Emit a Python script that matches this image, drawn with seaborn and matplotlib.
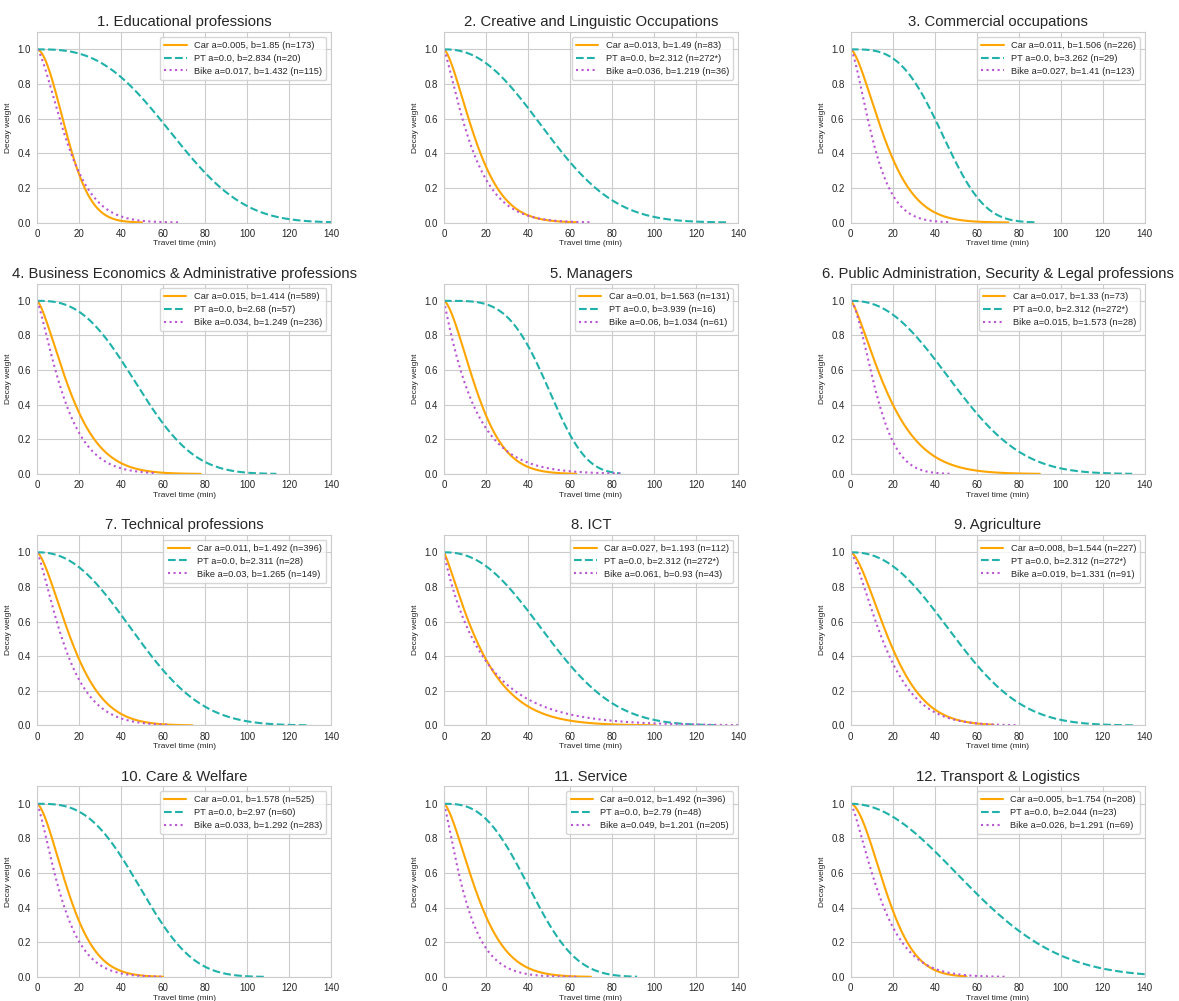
import numpy as np
import pandas as pd
import matplotlib
matplotlib.use("Agg")
import matplotlib.pyplot as plt
import seaborn as sns

sns.set_style("whitegrid")
plt.rcParams['font.family'] = ['Liberation Sans', 'DejaVu Sans']

# panel titles
titles = [
    "1. Educational professions",
    "2. Creative and Linguistic Occupations",
    "3. Commercial occupations",
    "4. Business Economics & Administrative professions",
    "5. Managers",
    "6. Public Administration, Security & Legal professions",
    "7. Technical professions",
    "8. ICT",
    "9. Agriculture",
    "10. Care & Welfare",
    "11. Service",
    "12. Transport & Logistics",
]

# decay parameters f(t) = exp(-a * t^b), as printed in the legends
car_a = [0.005, 0.013, 0.011, 0.015, 0.01, 0.017, 0.011, 0.027, 0.008, 0.01, 0.012, 0.005]
car_b = [1.85, 1.49, 1.506, 1.414, 1.563, 1.33, 1.492, 1.193, 1.544, 1.578, 1.492, 1.754]
car_n = ["173", "83", "226", "589", "131", "73", "396", "112", "227", "525", "396", "208"]
car_tmax = [50, 63, 75, 78, 63, 90, 74, 101, 68, 60, 70, 55]

pt_a_label = [0.0] * 12
pt_b = [2.834, 2.312, 3.262, 2.68, 3.939, 2.312, 2.311, 2.312, 2.312, 2.97, 2.79, 2.044]
pt_n = ["20", "272*", "29", "57", "16", "272*", "28", "272*", "272*", "60", "48", "23"]
# PT a is printed as 0.0, estimated from the drawn curves
pt_a = [5.04e-6, 8.14e-5, 3.03e-6, 2.115e-5, 1.465e-7, 8.14e-5, 8.87e-5, 8.14e-5,
        8.14e-5, 6.3e-6, 2.15e-5, 1.703e-4]
pt_tmax = [140, 135, 88, 114, 84, 134, 130, 130, 135, 108, 92, 140]

bike_a = [0.017, 0.036, 0.027, 0.034, 0.06, 0.015, 0.03, 0.061, 0.019, 0.033, 0.049, 0.026]
bike_b = [1.432, 1.219, 1.41, 1.249, 1.034, 1.573, 1.265, 0.93, 1.331, 1.292, 1.201, 1.291]
bike_n = ["115", "36", "123", "236", "61", "28", "149", "43", "91", "283", "205", "69"]
bike_tmax = [68, 70, 48, 57, 85, 47, 62, 140, 80, 59, 63, 74]

colors = ["orange", "lightseagreen", "mediumorchid"]
dashes = ["", (3.7, 1.6), (1, 1.65)]

t = np.linspace(0, 140, 1401)

fig, axes = plt.subplots(4, 3, figsize=(11.79, 10.01), dpi=100)
fig.subplots_adjust(left=0.0314, right=0.971, top=0.968, bottom=0.024,
                    wspace=0.384, hspace=0.32)

for i, ax in enumerate(axes.flat):

    rows = []
    modes = [
        (f"Car a={car_a[i]}, b={car_b[i]} (n={car_n[i]})", car_a[i], car_b[i], car_tmax[i]),
        (f"PT a={pt_a_label[i]}, b={pt_b[i]} (n={pt_n[i]})", pt_a[i], pt_b[i], pt_tmax[i]),
        (f"Bike a={bike_a[i]}, b={bike_b[i]} (n={bike_n[i]})", bike_a[i], bike_b[i], bike_tmax[i]),
    ]
    labels = [m[0] for m in modes]
    for label, a, b, tmax in modes:
        tt = t[t <= tmax]
        rows.append(pd.DataFrame({"time": tt, "weight": np.exp(-a * tt ** b), "mode": label}))
    df = pd.concat(rows, ignore_index=True)

    sns.lineplot(data=df, x="time", y="weight", hue="mode", style="mode",
                 hue_order=labels, style_order=labels,
                 palette=colors, dashes=dashes, linewidth=1.5, ax=ax)

    ax.set_xlim(0, 140)
    ax.set_ylim(0, 1.1)
    ax.set_xticks(range(0, 141, 20))
    ax.set_yticks([0.0, 0.2, 0.4, 0.6, 0.8, 1.0])
    ax.tick_params(labelsize=7, pad=1)
    ax.set_title(titles[i], fontsize=10.7, pad=4)
    ax.set_xlabel("Travel time (min)", fontsize=6, labelpad=1)
    ax.set_ylabel("Decay weight", fontsize=6, labelpad=4)
    leg = ax.legend(loc="upper right", fontsize=6.7, frameon=True, handlelength=2.4,
                    borderpad=0.45, labelspacing=0.42)
    leg.get_frame().set_edgecolor("0.8")

fig.savefig("out.png", dpi=100)
